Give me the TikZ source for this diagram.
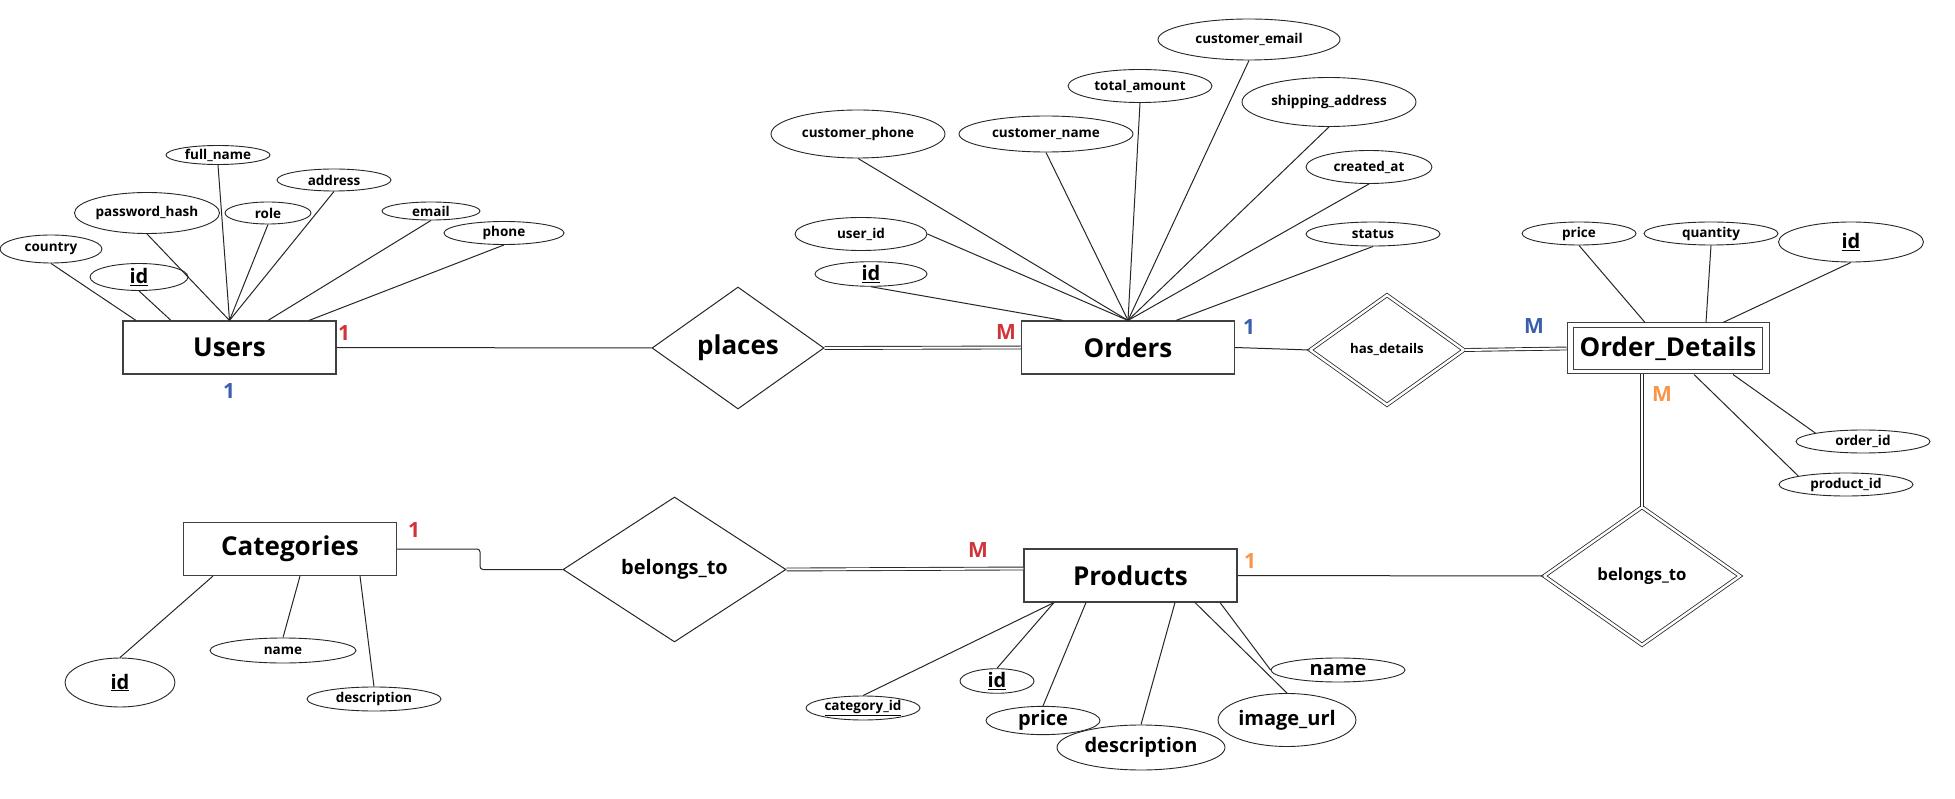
\documentclass[tikz,border=0pt]{standalone}
\usepackage{fontspec}
\setmainfont{Open Sans}
\usetikzlibrary{shapes.geometric}
\definecolor{cardred}{RGB}{208,52,58}
\definecolor{cardblue}{RGB}{59,94,174}
\definecolor{cardorange}{RGB}{247,149,74}
\newcommand{\fsz}[1]{\fontsize{#1}{#1}\selectfont\bfseries}
\tikzset{
  x=1pt, y=-1pt,
  entity/.style={rectangle, draw=black!75, fill=white, line width=1.1pt, inner sep=0pt,
                 minimum width=213, minimum height=53, font=\fsz{26}},
  rel/.style={diamond, draw=black!85, fill=white, inner sep=0pt, line width=1pt},
  weakrel/.style={rel, double, double distance=2.4pt, line width=0.8pt},
  attr/.style={ellipse, draw=black!85, fill=white, inner sep=0pt, line width=0.9pt, font=\fsz{13.5}},
  bigattr/.style={attr, font=\fsz{20}},
  lnk/.style={draw=black!85, line width=1pt},
  dbl/.style={draw=black!85, double, double distance=2pt, line width=0.9pt},
  card/.style={font=\fsz{21}, inner sep=0pt},
}
\begin{document}
\begin{tikzpicture}
\useasboundingbox (0,0) rectangle (1955,799);

% ---------- entities ----------
\node[entity] (users) at (229.5,347.5) {Users};
\node[entity] (orders) at (1128,347.5) {Orders};
% weak entity: outer and inner frame
\node[entity, line width=1pt, minimum width=202, minimum height=51] (od) at (1668,348.5) {};
\node[entity, line width=1pt, fill=none, minimum width=189, minimum height=42] (odin) at (od.center) {Order\_Details};
\node[entity] (products) at (1130.5,575.5) {Products};
\node[entity] (cats) at (290,549) {Categories};

% ---------- relationships ----------
\node[rel, minimum width=172, minimum height=122, font=\fsz{26}] (places) at (738,348) {places};
\node[weakrel, minimum width=154, minimum height=110, font=\fsz{13.3}] (hasd) at (1387,350) {has\_details};
\node[rel, minimum width=223, minimum height=145, font=\fsz{20}] (bt1) at (674.5,569.5) {belongs\_to};
\node[weakrel, minimum width=196, minimum height=138, font=\fsz{16.7}] (bt2) at (1642,576) {belongs\_to};

% ---------- attributes of Users ----------
\node[attr, minimum width=102, minimum height=28] (ucountry) at (51,249) {country};
\node[bigattr, minimum width=98, minimum height=27] (uid) at (139,277) {\underline{id}};
\node[attr, minimum width=144, minimum height=41] (upass) at (147,213) {password\_hash};
\node[attr, minimum width=104, minimum height=19] (uname) at (218,155) {full\_name};
\node[attr, minimum width=86, minimum height=22] (urole) at (268,213) {role};
\node[attr, minimum width=114, minimum height=22] (uaddr) at (334,180) {address};
\node[attr, minimum width=98, minimum height=18] (uemail) at (431,211) {email};
\node[attr, minimum width=120, minimum height=23] (uphone) at (504,233) {phone};

% ---------- attributes of Orders ----------
\node[attr, minimum width=182, minimum height=41] (ocemail) at (1249,39.5) {customer\_email};
\node[attr, minimum width=144, minimum height=33] (ototal) at (1140,86) {total\_amount};
\node[attr, minimum width=174, minimum height=49] (oship) at (1329,102) {shipping\_address};
\node[attr, minimum width=174, minimum height=48] (ocphone) at (858,134) {customer\_phone};
\node[attr, minimum width=174, minimum height=36] (ocname) at (1046,134) {customer\_name};
\node[attr, minimum width=126, minimum height=33] (ocreated) at (1369,167) {created\_at};
\node[attr, minimum width=132, minimum height=33] (ouser) at (861,234) {user\_id};
\node[attr, minimum width=134, minimum height=24] (ostatus) at (1373,234) {status};
\node[bigattr, minimum width=112, minimum height=24] (oid) at (871,274) {\underline{id}};

% ---------- attributes of Order_Details ----------
\node[attr, minimum width=114, minimum height=23] (odprice) at (1579,233.5) {price};
\node[attr, minimum width=134, minimum height=23] (odqty) at (1711,233.5) {quantity};
\node[bigattr, minimum width=145, minimum height=40] (odid) at (1851,242) {\underline{id}};
\node[attr, minimum width=134, minimum height=23] (odorder) at (1863,441.5) {order\_id};
\node[attr, minimum width=134, minimum height=23] (odprod) at (1846,484.5) {product\_id};

% ---------- attributes of Products ----------
\node[bigattr, minimum width=134, minimum height=24] (pname) at (1338,670) {name};
\node[bigattr, minimum width=74, minimum height=24] (pid) at (997,681) {\underline{id}};
\node[attr, minimum width=114, minimum height=24] (pcat) at (863,708) {\underline{category\_id}};
\node[bigattr, minimum width=114, minimum height=25] (pprice) at (1043,720.5) {price};
\node[bigattr, minimum width=136, minimum height=53] (pimg) at (1287,720) {image\_url};
\node[bigattr, minimum width=168, minimum height=45] (pdesc) at (1141,747.5) {description};

% ---------- attributes of Categories ----------
\node[bigattr, minimum width=110, minimum height=49] (cid) at (120,682.5) {\underline{id}};
\node[attr, minimum width=146, minimum height=25] (cname) at (283,650.5) {name};
\node[attr, minimum width=134, minimum height=24] (cdesc) at (374,699) {description};

% ---------- attribute links ----------
\draw[lnk] (ucountry.south) -- ([xshift=-93.5]users.north);
\draw[lnk] (uid.south) -- ([xshift=-58.5]users.north);
\draw[lnk] (upass.south) -- (users.north);
\draw[lnk] (uname.south) -- (users.north);
\draw[lnk] (urole.south) -- (users.north);
\draw[lnk] (uaddr.south) -- (users.north);
\draw[lnk] (uemail.south) -- ([xshift=38.5]users.north);
\draw[lnk] (uphone.south) -- ([xshift=79.5]users.north);

\draw[lnk] (oid.south) -- ([xshift=-65]orders.north);
\draw[lnk] (ouser.east) -- (orders.north);
\draw[lnk] (ocphone.south) -- (orders.north);
\draw[lnk] (ocname.south) -- (orders.north);
\draw[lnk] (ototal.south) -- (orders.north);
\draw[lnk] (ocemail.south) -- (orders.north);
\draw[lnk] (oship.south) -- (orders.north);
\draw[lnk] (ocreated.south) -- (orders.north);
\draw[lnk] (ostatus.south) -- ([xshift=48]orders.north);

\draw[lnk] (odprice.south) -- ([xshift=-23]od.north);
\draw[lnk] (odqty.south) -- ([xshift=38]od.north);
\draw[lnk] (odid.south) -- ([xshift=55]od.north);
\draw[lnk] (odorder.north west) -- ([xshift=65]od.south);
\draw[lnk] (odprod.north west) -- ([xshift=26]od.south);

\draw[lnk] (pcat.north) -- ([xshift=-76.5]products.south);
\draw[lnk] (pid.north) -- ([xshift=-76.5]products.south);
\draw[lnk] (pprice.north) -- ([xshift=-44.5]products.south);
\draw[lnk] (pdesc.north) -- ([xshift=44.5]products.south);
\draw[lnk] (pimg.north) -- ([xshift=64.5]products.south);
\draw[lnk] (pname.west) -- ([xshift=89.5]products.south);

\draw[lnk] (cid.north) -- ([xshift=-77]cats.south);
\draw[lnk] (cname.north) -- ([xshift=10]cats.south);
\draw[lnk] (cdesc.north) -- ([xshift=70]cats.south);

% ---------- relationship links ----------
\draw[lnk] (users.east) -- (places.west);
\draw[dbl] (places.east) -- (orders.west);
\draw[lnk] (orders.east) -- (hasd.west);
\draw[dbl] (hasd.east) -- (od.west);
\draw[dbl] ([xshift=-26]od.south) -- (bt2.north);
\draw[lnk] (products.east) -- (bt2.west);
\draw[lnk, rounded corners=3] (cats.east) -- ++(83,0) |- (bt1.west);
\draw[dbl] (bt1.east) -- ([yshift=7]products.west);

% ---------- cardinalities ----------
\node[card, text=cardred] (c1) at (344,333) {1};
\node[card, text=cardblue] (c2) at (229,391) {1};
\node[card, text=cardred] (c3) at (1006,332) {M};
\node[card, text=cardblue] (c4) at (1249,327) {1};
\node[card, text=cardblue] (c5) at (1534,326) {M};
\node[card, text=cardorange] (c6) at (1662,394) {M};
\node[card, text=cardred] (c7) at (414,530) {1};
\node[card, text=cardred] (c8) at (978,550) {M};
\node[card, text=cardorange] (c9) at (1250,561) {1};
\end{tikzpicture}
\end{document}
